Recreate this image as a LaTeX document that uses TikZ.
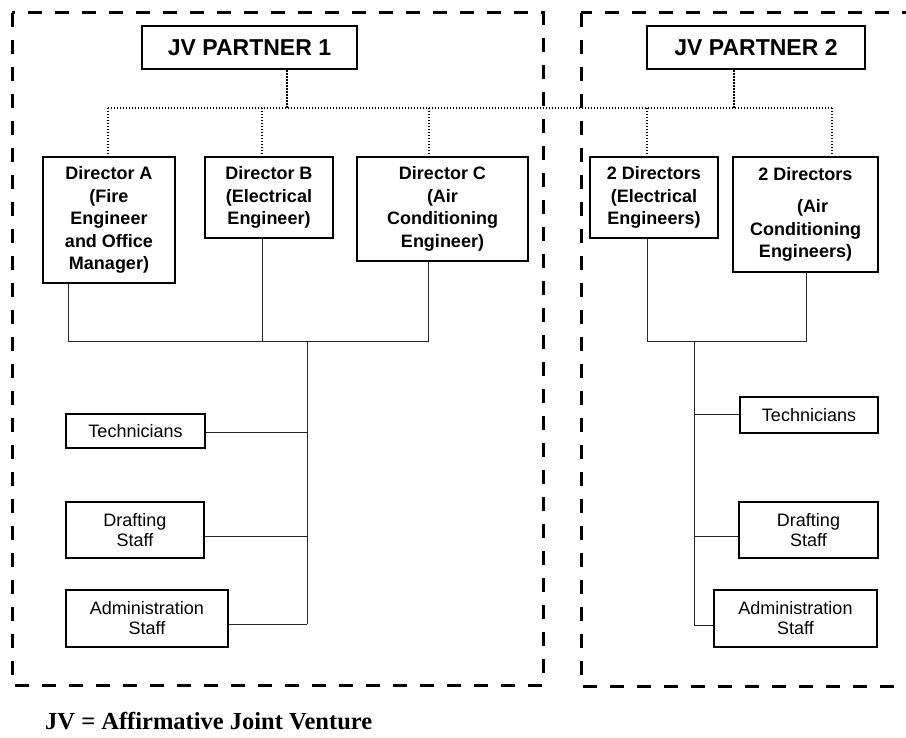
\documentclass[tikz,border=0pt]{standalone}
\usepackage{fontspec}
\setmainfont{Liberation Sans}
\newfontfamily\captionfont{Liberation Serif}
\begin{document}
\begin{tikzpicture}[x=1pt,y=-1pt,
  partnerbox/.style={draw, line width=2.6pt, inner sep=0pt, align=center,
    font={\fontsize{23}{27}\selectfont\bfseries}},
  dirbox/.style={draw, line width=2.6pt, inner sep=0pt, align=center,
    font={\fontsize{18}{22.5}\selectfont\bfseries}},
  staffbox/.style={draw, line width=1.5pt, inner sep=0pt, align=center,
    font={\fontsize{18}{20}\selectfont}},
  conn/.style={line width=1pt, color=black!85},
  dotline/.style={line width=1.6pt, dash pattern=on 1.4pt off 1.6pt},
  groupframe/.style={line width=3pt, dash pattern=on 14pt off 13pt}]

\useasboundingbox (0,0) rectangle (906,738);
\clip (0,0) rectangle (906,738);

% group frames (the second one runs past the right edge)
\draw[groupframe] (12,13) rectangle (543,685);
\draw[groupframe] (581,13) rectangle (980,686);

% partners
\node[partnerbox, minimum width=215pt, minimum height=43pt] (P1) at (249.5,47.5) {JV PARTNER 1};
\node[partnerbox, minimum width=218pt, minimum height=43pt] (P2) at (756,47.5) {JV PARTNER 2};

% directors of partner 1
\node[dirbox, minimum width=132pt, minimum height=126pt] (DA) at (109,220)
  {Director A\\(Fire\\Engineer\\and Office\\Manager)};
\node[dirbox, minimum width=128pt, minimum height=81pt] (DB) at (269,197.5)
  {Director B\\(Electrical\\Engineer)};
\node[dirbox, minimum width=171pt, minimum height=104pt] (DC) at (442.5,209)
  {Director C\\(Air\\Conditioning\\Engineer)};

% directors of partner 2
\node[dirbox, minimum width=128pt, minimum height=81pt] (DE) at (654,197.5)
  {2 Directors\\(Electrical\\Engineers)};
\node[dirbox, minimum width=145pt, minimum height=115pt] (DF) at (805.5,214.5)
  {2 Directors\\[10pt]\hspace*{14pt}(Air\\Conditioning\\Engineers)};

% staff of partner 1
\node[staffbox, minimum width=139pt, minimum height=34pt] (TL) at (135.5,431) {Technicians};
\node[staffbox, minimum width=138pt, minimum height=56pt] (DL) at (135,530) {Drafting\\Staff};
\node[staffbox, minimum width=162pt, minimum height=57pt] (AL) at (147,618.5) {Administration\\Staff};

% staff of partner 2
\node[staffbox, minimum width=138pt, minimum height=36pt] (TR) at (809,415) {Technicians};
\node[staffbox, minimum width=139pt, minimum height=56pt] (DR) at (808.5,530) {Drafting\\Staff};
\node[staffbox, minimum width=163pt, minimum height=57pt] (AR) at (795.5,618.5) {Administration\\Staff};

% dotted joint-venture links
\coordinate (dotL) at (108,108);
\coordinate (dotR) at (832,108);
\coordinate (p1drop) at (287,108);
\coordinate (p2drop) at (734,108);
\coordinate (dB) at (262,108);
\coordinate (dC) at (429,108);
\coordinate (dE) at (647,108);
\draw[dotline] (dotL) -- (dotR);
\draw[dotline] (p1drop |- P1.south) -- (p1drop);
\draw[dotline] (p2drop |- P2.south) -- (p2drop);
\draw[dotline] (dotL) -- (dotL |- DA.north);
\draw[dotline] (dB) -- (dB |- DB.north);
\draw[dotline] (dC) -- (dC |- DC.north);
\draw[dotline] (dE) -- (dE |- DE.north);
\draw[dotline] (dotR) -- (dotR |- DF.north);

% reporting lines, partner 1
\coordinate (busLa) at (68,342);
\coordinate (busLb) at (262,342);
\coordinate (busLc) at (428,342);
\coordinate (trunkL) at (307,342);
\coordinate (jTL) at (307,432);
\coordinate (jDL) at (307,536);
\coordinate (jAL) at (307,624);
\draw[conn] (busLa |- DA.south) -- (busLa) -- (busLc) -- (busLc |- DC.south);
\draw[conn] (busLb |- DB.south) -- (busLb);
\draw[conn] (trunkL) -- (jAL);
\draw[conn] (TL.east |- jTL) -- (jTL);
\draw[conn] (DL.east |- jDL) -- (jDL);
\draw[conn] (AL.east |- jAL) -- (jAL);

% reporting lines, partner 2
\coordinate (busRa) at (647,342);
\coordinate (busRb) at (806,342);
\coordinate (trunkR) at (694,342);
\coordinate (jTR) at (694,414);
\coordinate (jDR) at (694,536);
\coordinate (jAR) at (694,625);
\draw[conn] (busRa |- DE.south) -- (busRa) -- (busRb) -- (busRb |- DF.south);
\draw[conn] (trunkR) -- (jAR);
\draw[conn] (jTR) -- (TR.west |- jTR);
\draw[conn] (jDR) -- (DR.west |- jDR);
\draw[conn] (jAR) -- (AR.west |- jAR);

% legend
\node[anchor=base west, inner sep=0pt, font={\captionfont\fontsize{24.5}{28}\selectfont\bfseries}]
  (legend) at (45,729) {JV = Affirmative Joint Venture};
\end{tikzpicture}
\end{document}
